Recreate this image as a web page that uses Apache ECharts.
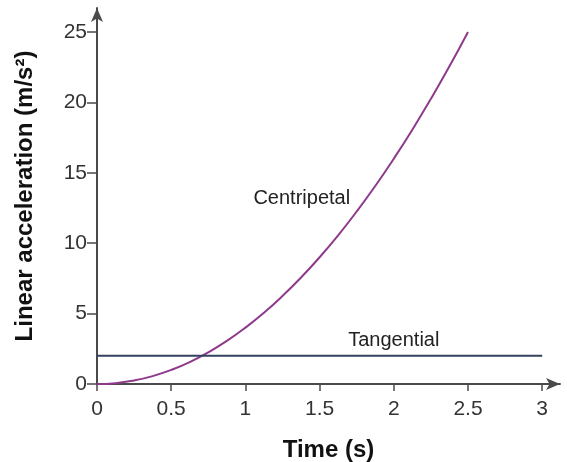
<!DOCTYPE html>
<html>
<head>
<meta charset="utf-8">
<script src="https://cdn.jsdelivr.net/npm/echarts@6/dist/echarts.min.js"></script>
<style>
  html, body { margin: 0; padding: 0; background: #fff; }
  #chart { width: 567px; height: 462px; }
</style>
</head>
<body>
<div id="chart"></div>
<script>
// data
const timeTicks = [0, 0.5, 1, 1.5, 2, 2.5, 3]
const accelTicks = [0, 5, 10, 15, 20, 25]
const centripetalT = [0, 0.125, 0.25, 0.375, 0.5, 0.625, 0.75, 0.875, 1, 1.125, 1.25, 1.375, 1.5, 1.625, 1.75, 1.875, 2, 2.125, 2.25, 2.375, 2.5]
const centripetalA = [0, 0.06, 0.25, 0.56, 1, 1.56, 2.25, 3.06, 4, 5.06, 6.25, 7.56, 9, 10.56, 12.25, 14.06, 16, 18.06, 20.25, 22.56, 25]
const tangentialT = [0, 3]
const tangentialA = [2, 2]

const font = 'Liberation Sans, Arial, sans-serif'
const axisColor = '#4a4a4a'

const myChart = echarts.init(document.getElementById('chart'))
const textLabel = (txt) => ({
    show: true, position: 'inside', formatter: txt,
    fontFamily: font, fontSize: 20, color: '#222'
})
const option = {
    animation: false,
    grid: { left: 97, right: 7, top: 8, bottom: 78, outerBoundsMode: 'none', containLabel: false },
    xAxis: {
        type: 'value',
        min: 0,
        max: 3.12,
        name: 'Time (s)',
        nameLocation: 'middle',
        nameGap: 54,
        nameTextStyle: { fontFamily: font, fontSize: 24, fontWeight: 'bold', color: '#111' },
        axisLine: { show: true, symbol: ['none', 'arrow'], symbolSize: [9, 14], lineStyle: { color: axisColor, width: 2 } },
        axisTick: { show: true, length: 7, customValues: timeTicks, lineStyle: { color: axisColor, width: 1.5 } },
        axisLabel: { customValues: timeTicks, margin: 15, fontFamily: font, fontSize: 21, color: '#333' },
        splitLine: { show: false }
    },
    yAxis: {
        type: 'value',
        min: 0,
        max: 26.7,
        name: 'Linear acceleration (m/s²)',
        nameLocation: 'middle',
        nameGap: 60,
        nameTextStyle: { fontFamily: font, fontSize: 24, fontWeight: 'bold', color: '#111' },
        axisLine: { show: true, symbol: ['none', 'arrow'], symbolSize: [9, 14], lineStyle: { color: axisColor, width: 2 } },
        axisTick: { show: true, length: 10, customValues: accelTicks, lineStyle: { color: axisColor, width: 1.5 } },
        axisLabel: { customValues: accelTicks, margin: 10, fontFamily: font, fontSize: 21, color: '#333' },
        splitLine: { show: false }
    },
    series: [
        {
            name: 'Centripetal',
            type: 'line',
            smooth: true,
            showSymbol: false,
            data: centripetalT.map((t, i) => [t, centripetalA[i]]),
            lineStyle: { color: '#8e3a8c', width: 2 },
            markPoint: {
                symbol: 'circle',
                symbolSize: 1,
                itemStyle: { color: 'rgba(0,0,0,0)' },
                data: [{ coord: [1.38, 13.2], label: textLabel('Centripetal') }]
            }
        },
        {
            name: 'Tangential',
            type: 'line',
            showSymbol: false,
            data: tangentialT.map((t, i) => [t, tangentialA[i]]),
            lineStyle: { color: '#33425f', width: 2 },
            markPoint: {
                symbol: 'circle',
                symbolSize: 1,
                itemStyle: { color: 'rgba(0,0,0,0)' },
                data: [{ coord: [2.0, 3.1], label: textLabel('Tangential') }]
            }
        }
    ]
}
myChart.setOption(option)
</script>
</body>
</html>
